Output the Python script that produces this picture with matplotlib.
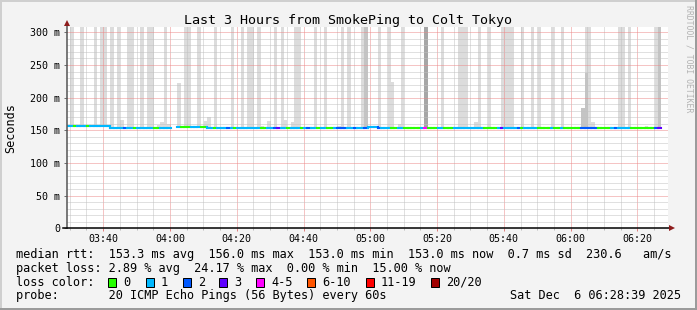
import math
import matplotlib
matplotlib.use("Agg")
import matplotlib.pyplot as plt
import matplotlib.ticker as mticker
from matplotlib.collections import LineCollection
from matplotlib.patches import Rectangle

W, H, DPI = 697, 310, 100
MONO = "DejaVu Sans Mono"

# ---------------- data ----------------
title = "Last 3 Hours from SmokePing to Colt Tokyo"
y_label = "Seconds"
watermark = "RRDTOOL / TOBI OETIKER"

start_minute = 209 + 10 / 60      # 03:29:10, minutes after midnight
window_minutes = 180
y_max = 307.7

x_tick_minutes = [220, 240, 260, 280, 300, 320, 340, 360, 380]
x_tick_labels = ["03:40", "04:00", "04:20", "04:40", "05:00", "05:20", "05:40", "06:00", "06:20"]
y_tick_values = [0, 50, 100, 150, 200, 250, 300]
y_tick_labels = ["0", "50 m", "100 m", "150 m", "200 m", "250 m", "300 m"]

nan = float("nan")
median_ms = [
    156.0, 156.0, 156.0, 156.0, 156.0, 156.0, 156.0, 156.0, 156.0, 156.0,
    156.0, 156.0, 156.0, 153.2, 153.2, 153.2, 153.2, 153.2, 153.2, 153.2,
    153.2, 153.2, 153.2, 153.2, 153.8, 153.8, 153.8, 153.8, 153.2, 153.2,
    153.2, nan, nan, 155.0, 155.0, 155.0, 155.0, 155.0, 155.0, 155.0,
    155.0, 155.0, 153.4, 153.4, 153.4, 153.4, 153.4, 153.4, 153.6, 153.6,
    153.6, 153.6, 153.6, 153.2, 153.2, 153.2, 153.2, 153.2, 153.2, 153.2,
    153.2, 153.2, 153.8, 153.8, 153.8, 153.1, 153.1, 153.1, 153.1, 153.1,
    153.1, 153.1, 153.1, 153.1, 153.1, 153.1, 153.1, 153.1, 153.1, 153.1,
    153.1, 153.1, 153.1, 153.1, 153.1, 153.1, 153.1, 153.1, 153.1, 153.1,
    155.0, 155.0, 155.0, 154.0, 153.0, 153.0, 153.0, 153.0, 153.0, 153.0,
    153.0, 153.0, 153.0, 153.0, 153.0, 153.0, 153.0, 153.0, 153.0, 153.0,
    153.0, 153.0, 153.0, 153.0, 153.0, 153.0, 153.0, 153.0, 153.0, 153.0,
    153.0, 153.0, 153.0, 153.0, 153.0, 153.0, 153.0, 153.0, 153.0, 153.0,
    153.0, 153.0, 153.0, 153.0, 153.0, 153.0, 153.0, 153.0, 153.0, 153.0,
    153.0, 153.0, 153.0, 153.0, 153.0, 153.0, 153.0, 153.0, 153.0, 153.0,
    153.0, 153.0, 153.0, 153.0, 153.0, 153.0, 153.0, 153.0, 153.0, 153.0,
    153.0, 153.0, 153.0, 153.0, 153.0, 153.0, 153.0, 153.0, 153.0, 153.0,
    153.0, 153.0, 153.0, 153.0, 153.0, 153.0, 153.0, 153.0,
]

loss_count = [
    1, 1, 0, 1, 1, 1, 0, 1, 1, 1,
    1, 1, 1, 1, 1, 1, 1, 2, 1, 1,
    0, 1, 1, 1, 1, 1, 0, 0, 1, 1,
    1, 0, 0, 1, 0, 0, 0, 1, 1, 1,
    0, 0, 1, 1, 0, 1, 1, 1, 2, 1,
    0, 1, 1, 1, 1, 1, 1, 1, 0, 0,
    1, 1, 2, 3, 1, 1, 0, 1, 1, 1,
    0, 1, 2, 1, 1, 0, 1, 1, 0, 0,
    1, 2, 2, 2, 1, 1, 2, 1, 1, 2,
    1, 1, 1, 2, 1, 1, 1, 0, 0, 1,
    1, 0, 0, 0, 0, 0, 1, 5, 0, 0,
    0, 1, 1, 0, 0, 0, 1, 1, 1, 1,
    1, 1, 1, 1, 1, 0, 0, 0, 0, 1,
    3, 1, 1, 1, 1, 2, 0, 1, 1, 1,
    1, 0, 0, 0, 0, 1, 0, 0, 1, 0,
    0, 0, 0, 0, 2, 2, 2, 2, 2, 0,
    0, 0, 0, 1, 2, 1, 1, 1, 1, 0,
    0, 0, 0, 0, 0, 0, 2, 3,
]

smoke_top = [
    nan, 310, nan, nan, 310, nan, nan, nan, 310, nan,
    310, 310, nan, 310, nan, 310, 166, nan, 310, 310,
    nan, nan, 310, nan, 310, 310, nan, 158, 163, 310,
    160, nan, nan, 222, nan, 310, 310, nan, nan, 310,
    nan, 165, 170, nan, 310, nan, nan, nan, nan, 310,
    nan, nan, 310, nan, 310, 310, nan, 310, 156, nan,
    165, nan, 310, nan, 310, 166, nan, 163, 310, 310,
    nan, nan, nan, nan, 310, nan, nan, 310, nan, nan,
    nan, 157, 310, nan, 310, nan, nan, nan, 310, 310,
    nan, nan, nan, 310, nan, nan, 310, 224, nan, 160,
    310, nan, nan, nan, nan, nan, nan, 310, nan, nan,
    nan, nan, 310, nan, nan, nan, nan, 310, 310, 310,
    nan, nan, 163, 310, nan, nan, 310, nan, nan, nan,
    310, 310, 310, 310, nan, nan, 310, nan, nan, 310,
    nan, 310, nan, nan, nan, 310, nan, nan, 310, nan,
    nan, nan, nan, nan, 184, 310, 310, 163, nan, nan,
    nan, nan, nan, nan, nan, 310, 310, nan, 310, nan,
    nan, nan, nan, 156, nan, nan, 310, 310,
]

dense_index = [89, 154, 155, 177]
dense_top = [310, 184, 237, 310]
dark_index = [107]
dark_top = [310]

loss_labels = ["0", "1", "2", "3", "4-5", "6-10", "11-19", "20/20"]
loss_colors = ["#26ff00", "#00b8ff", "#0059ff", "#5e00ff", "#ff00ff", "#ff5500", "#ff0000", "#a10000"]
loss_upper = [0, 1, 2, 3, 5, 10, 19, 20]

rtt_avg, rtt_max, rtt_min, rtt_now = 153.3, 156.0, 153.0, 153.0
rtt_sd = 0.7
rtt_am_s = 230.6
loss_avg, loss_max, loss_min, loss_now = 2.89, 24.17, 0.00, 15.00
probe_desc = "20 ICMP Echo Pings (56 Bytes) every 60s"
timestamp = "Sat Dec  6 06:28:39 2025"

# ---------------- layout helpers ----------------
def fx(px):
    return px / W

def fy(py):
    return 1 - py / H

fig = plt.figure(figsize=(W / DPI, H / DPI), dpi=DPI, facecolor="#f3f3f3")

LEG_SIZE = 8.52

def ftext(x, y, s, size=LEG_SIZE, **kw):
    kw.setdefault("va", "baseline")
    kw.setdefault("ha", "left")
    fig.text(fx(x), fy(y), s, fontsize=size, family=MONO, **kw)

ax_l, ax_r, ax_t, ax_b = 67, 668, 27.3, 228.3
ax = fig.add_axes([fx(ax_l), fy(ax_b), (ax_r - ax_l) / W, (ax_b - ax_t) / H])
ax.set_facecolor("white")
ax.set_xlim(start_minute, start_minute + window_minutes)
ax.set_ylim(0, y_max)
for s in ax.spines.values():
    s.set_visible(False)

# ---------------- smoke ----------------
times = [start_minute + i for i in range(len(median_ms))]
bx, bb, bh = [], [], []
for i, top in enumerate(smoke_top):
    m = median_ms[i]
    if math.isnan(top) or math.isnan(m):
        continue
    bx.append(times[i]); bb.append(m); bh.append(top - m)
ax.bar(bx, bh, bottom=bb, width=1.0, align="edge", color="#dcdcdc", linewidth=0, zorder=1)

ax.bar([times[i] for i in dense_index],
       [t - median_ms[i] for i, t in zip(dense_index, dense_top)],
       bottom=[median_ms[i] for i in dense_index],
       width=1.0, align="edge", color="#c4c4c4", linewidth=0, zorder=1.1)
ax.bar([times[i] for i in dark_index],
       [t - median_ms[i] for i, t in zip(dark_index, dark_top)],
       bottom=[median_ms[i] for i in dark_index],
       width=1.0, align="edge", color="#a6a6a6", linewidth=0, zorder=1.2)

# ---------------- grid ----------------
ax.xaxis.set_major_locator(mticker.FixedLocator(x_tick_minutes))
ax.xaxis.set_major_formatter(mticker.FixedFormatter(x_tick_labels))
ax.xaxis.set_minor_locator(mticker.MultipleLocator(5))
ax.yaxis.set_major_locator(mticker.FixedLocator(y_tick_values))
ax.yaxis.set_major_formatter(mticker.FixedFormatter(y_tick_labels))
ax.yaxis.set_minor_locator(mticker.MultipleLocator(10))
ax.set_axisbelow(False)
ax.grid(which="minor", color="#c2c2c2", linewidth=0.72, linestyle=(0, (1, 1)))
ax.grid(which="major", color="#ec8a8a", linewidth=0.72, linestyle=(0, (1, 1)))

ax.tick_params(axis="y", which="major", length=2.5, width=0.72, color="#707070",
               direction="out", pad=2.5, labelsize=7.2, labelfontfamily=MONO)
ax.tick_params(axis="y", which="minor", length=0)
ax.tick_params(axis="x", which="major", length=2.0, width=0.72, color="#e08080",
               direction="out", pad=2.4, labelsize=7.2, labelfontfamily=MONO)
ax.tick_params(axis="x", which="minor", length=1.6, width=0.72, color="#bbbbbb", direction="out")

# ---------------- median line coloured by loss ----------------
def loss_color(n):
    for up, c in zip(loss_upper, loss_colors):
        if n <= up:
            return c
    return loss_colors[-1]

segs, cols = [], []
for i, m in enumerate(median_ms):
    if math.isnan(m):
        continue
    c = loss_color(loss_count[i])
    x0 = times[i]
    if i > 0 and not math.isnan(median_ms[i - 1]) and median_ms[i - 1] != m:
        segs.append([(x0, median_ms[i - 1]), (x0, m)]); cols.append(c)
    segs.append([(x0, m), (x0 + 1, m)]); cols.append(c)
ax.add_collection(LineCollection(segs, colors=cols, linewidths=1.5, zorder=3, capstyle="projecting"))

# ---------------- axes lines & arrows ----------------
ax.plot([0, 0], [0, 1.012], transform=ax.transAxes, color="#555555", lw=1.1, clip_on=False, zorder=4)
ax.plot([-0.007, 1.004], [0, 0], transform=ax.transAxes, color="#000000", lw=1.1, clip_on=False, zorder=4)
ax.plot([0], [1.019], transform=ax.transAxes, marker="^", markersize=4.2, color="#8e1c1c",
        clip_on=False, zorder=5, markeredgewidth=0)
ax.plot([1.006], [0], transform=ax.transAxes, marker=">", markersize=4.2, color="#8e1c1c",
        clip_on=False, zorder=5, markeredgewidth=0)

# ---------------- texts ----------------
ftext(348, 24, title, size=9.6, ha="center")
fig.text(fx(11), fy(128), y_label, rotation=90, ha="center", va="center",
         fontsize=8.5, family=MONO)
fig.text(fx(688.5), fy(59), watermark, rotation=270, ha="center", va="center",
         fontsize=5.9, family=MONO, color="#b3b3b3")

row_rtt = ("median rtt:  " + f"{rtt_avg:.1f} ms avg  " + f"{rtt_max:.1f} ms max  "
           + f"{rtt_min:.1f} ms min  " + f"{rtt_now:.1f} ms now  " + f"{rtt_sd:.1f} ms sd  "
           + f"{rtt_am_s:.1f}   am/s")
row_loss = ("packet loss: " + f"{loss_avg:.2f} % avg  " + f"{loss_max:.2f} % max  "
            + f"{loss_min:.2f} % min  " + f"{loss_now:.2f} % now")
row_probe = "probe:       " + probe_desc

ftext(15.5, 258.3, row_rtt)
ftext(15.5, 272, row_loss)
ftext(15.5, 285.7, "loss color:")
box_x = [108.3, 145.7, 182.7, 219.3, 256, 307.3, 365.7, 430.7]
for x, lab, c in zip(box_x, loss_labels, loss_colors):
    fig.patches.append(Rectangle((fx(x), fy(286.5)), 8 / W, 8.5 / H, transform=fig.transFigure,
                                 facecolor=c, edgecolor="black", linewidth=0.72, figure=fig))
    ftext(x + 15, 285.7, lab)
ftext(15.5, 299.4, row_probe)
ftext(681, 299.4, timestamp, ha="right")

# ---------------- frame ----------------
for (x, y, w, h, c) in [(0, 0, W, 2, "#cfcfcf"), (0, 0, 2, H, "#cfcfcf"),
                        (0, H - 2, W, 2, "#9b9b9b"), (W - 2, 0, 2, H, "#9b9b9b")]:
    fig.patches.append(Rectangle((fx(x), fy(y + h)), w / W, h / H, transform=fig.transFigure,
                                 facecolor=c, edgecolor="none", figure=fig))

fig.savefig("out.png", dpi=DPI, facecolor=fig.get_facecolor())
